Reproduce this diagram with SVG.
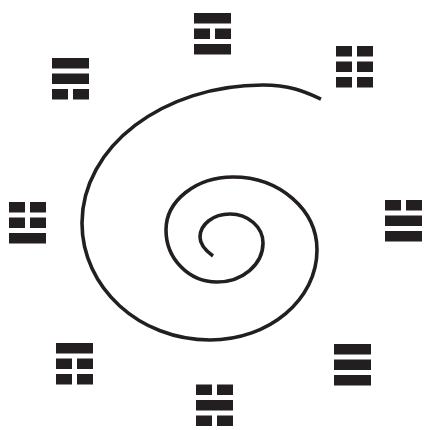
<svg xmlns="http://www.w3.org/2000/svg" width="424" height="430" viewBox="0 0 424 430">
<defs>
<style>
.bar{fill:#231f20}
.spiral{fill:none;stroke:#231f20;stroke-width:3.6;stroke-linecap:butt}
</style>
<rect id="y" class="bar" width="37" height="10.5"/>
<g id="n"><rect class="bar" width="16" height="10.5"/><rect class="bar" x="21" width="16" height="10.5"/></g>
</defs>
<rect width="424" height="430" fill="#ffffff"/>
<g id="connectors">
<path class="spiral" d="M213,256 C206,251 200,245 200,237 C200,224.3 213.4,214 230,214 C248.2,214 263,227 263,243 C263,264.5 242.4,282 217,282 C188.8,282 166,258.7 166,230 C166,200.7 196,177 233,177 C279.4,177 317,209.7 317,250 C317,299.7 269.1,340 210,340 C139.3,340 82,287.6 82,223 C82,146.8 163,85 263,85 C290,85 305,92 321,99"/>
</g>
<g id="li" transform="translate(194,13)"><use href="#y"/><use href="#n" y="15.5"/><use href="#y" y="31"/></g>
<g id="kun" transform="translate(336,46)"><use href="#n"/><use href="#n" y="15.5"/><use href="#n" y="31"/></g>
<g id="dui" transform="translate(385,200)"><use href="#n"/><use href="#y" y="15.5"/><use href="#y" y="31"/></g>
<g id="qian" transform="translate(334,344)"><use href="#y"/><use href="#y" y="15.5"/><use href="#y" y="31"/></g>
<g id="kan" transform="translate(196,384.5)"><use href="#n"/><use href="#y" y="15.5"/><use href="#n" y="31"/></g>
<g id="gen" transform="translate(56,343)"><use href="#y"/><use href="#n" y="15.5"/><use href="#n" y="31"/></g>
<g id="zhen" transform="translate(9,202)"><use href="#n"/><use href="#n" y="15.5"/><use href="#y" y="31"/></g>
<g id="xun" transform="translate(52,58)"><use href="#y"/><use href="#y" y="15.5"/><use href="#n" y="31"/></g>
</svg>
